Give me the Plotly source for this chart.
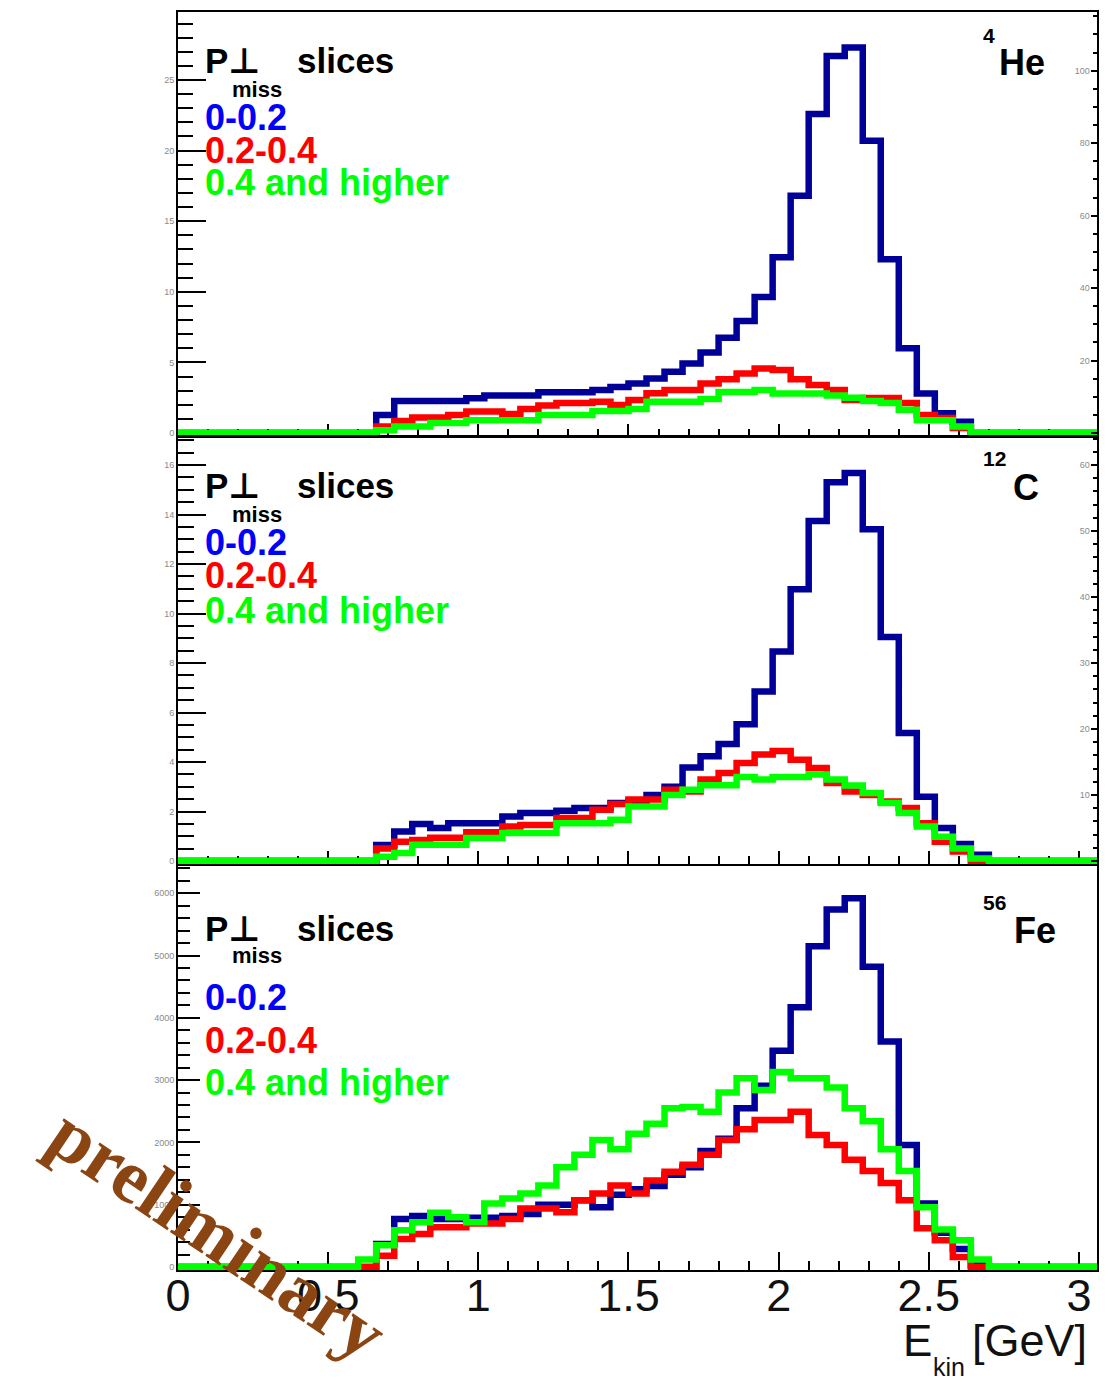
import plotly.graph_objects as go

# Canvas size in pixels
W, H = 1113, 1384

# Histogram binning: 51 bins of 0.06 GeV from 0 to 3.06 GeV
BIN_WIDTH = 0.06
N_BINS = 51
FIRST_LISTED_BIN = 10          # the lists below start at E_kin = 0.60 GeV

# Counts per bin, 0.60 ... 2.70 GeV (36 bins), for each p_miss slice
he_low = [0, 1.27, 2.27, 2.27, 2.27, 2.27, 2.46, 2.65, 2.65, 2.65, 2.88, 2.88,
          2.88, 3.05, 3.26, 3.5, 3.86, 4.34, 4.93, 5.7, 6.74, 7.93, 9.64, 12.45,
          16.8, 22.6, 26.7, 27.3, 20.7, 12.3, 6.0, 2.8, 1.4, 0.8, 0, 0]
he_mid = [0, 0.46, 0.85, 1.1, 1.1, 1.28, 1.52, 1.52, 1.35, 1.7, 1.94, 2.12,
          2.12, 2.22, 1.98, 2.34, 2.81, 3.05, 3.05, 3.5, 3.8, 4.22, 4.57, 4.46,
          3.8, 3.4, 3.05, 2.34, 2.47, 2.47, 2.12, 1.28, 1.06, 0.35, 0, 0]
he_high = [0, 0.2, 0.46, 0.46, 0.7, 0.7, 0.9, 0.9, 0.9, 0.9, 1.28, 1.28,
           1.28, 1.55, 1.55, 1.7, 2.22, 2.22, 2.22, 2.4, 2.9, 2.9, 3.05, 2.8,
           2.8, 2.8, 2.65, 2.5, 2.27, 2.12, 1.65, 0.9, 0.9, 0.46, 0, 0]

c_low = [0, 0.65, 1.19, 1.49, 1.33, 1.53, 1.53, 1.53, 1.8, 1.94, 1.94, 2.03,
         2.14, 2.14, 2.34, 2.43, 2.67, 3.0, 3.78, 4.23, 4.73, 5.53, 6.85, 8.46,
         10.98, 13.74, 15.3, 15.68, 13.4, 9.05, 5.17, 2.6, 1.33, 0.69, 0.25, 0]
c_mid = [0, 0.51, 0.78, 0.85, 0.94, 0.94, 1.16, 1.16, 1.39, 1.45, 1.45, 1.74,
         1.74, 2.07, 2.3, 2.48, 2.48, 2.88, 2.81, 3.29, 3.56, 3.96, 4.3, 4.44,
         4.09, 3.76, 3.15, 2.81, 2.67, 2.4, 2.14, 1.53, 0.78, 0.38, 0, 0]
c_high = [0, 0.17, 0.32, 0.66, 0.66, 0.66, 0.93, 0.93, 1.13, 1.13, 1.13, 1.53,
          1.53, 1.53, 1.67, 2.2, 2.2, 2.67, 2.88, 3.06, 3.06, 3.39, 3.29, 3.39,
          3.39, 3.5, 3.29, 3.05, 2.75, 2.34, 1.94, 1.39, 0.98, 0.51, 0.1, 0]

fe_low = [0, 370, 770, 820, 770, 770, 790, 790, 820, 850, 1000, 1000,
          1070, 960, 1160, 1250, 1300, 1480, 1600, 1860, 2060, 2550, 2910, 3470,
          4170, 5150, 5740, 5920, 4820, 3620, 1960, 1020, 550, 290, 30, 0]
fe_mid = [0, 180, 450, 530, 640, 640, 700, 700, 770, 940, 940, 880,
          1070, 1180, 1310, 1180, 1390, 1530, 1640, 1800, 2040, 2210, 2360, 2360,
          2490, 2120, 1960, 1720, 1540, 1350, 1070, 620, 430, 160, 0, 0]
fe_high = [120, 350, 590, 720, 870, 800, 720, 1020, 1100, 1180, 1310, 1600,
           1800, 2040, 1890, 2140, 2300, 2550, 2570, 2490, 2800, 3030, 2840, 3130,
           3030, 3030, 2880, 2550, 2340, 1890, 1540, 960, 600, 430, 120, 0]

slice_labels = ["0-0.2", "0.2-0.4", "0.4 and higher"]
x_tick_vals = [0, 0.5, 1, 1.5, 2, 2.5, 3]
x_tick_text = ["0", "0.5", "1", "1.5", "2", "2.5", "3"]

LINE_COLORS = ["#000099", "#ff0000", "#00ff00"]
TEXT_COLORS = ["#0000ff", "#ff0000", "#00ff00"]
SANS = "Liberation Sans, Arial, Helvetica, DejaVu Sans, sans-serif"
SERIF = "Liberation Serif, Times New Roman, DejaVu Serif, serif"

X_LEFT, X_RIGHT = 178, 1097    # frame edges (px)


def full_bins(vals):
    counts = [0.0] * N_BINS
    for i, v in enumerate(vals):
        counts[FIRST_LISTED_BIN + i] = v
    return counts


def step_xy(vals):
    counts = full_bins(vals)
    edges = [round(i * BIN_WIDTH, 4) for i in range(N_BINS + 1)]
    return edges, counts + [counts[-1]]


def fx(p):
    return p / W


def fy(p):
    return 1 - p / H


# Panel geometry (px) and axis scales (px per unit)
panels = [
    dict(series=[he_low, he_mid, he_high], top=12, zero=433, bottom=436,
         ppu=14.12, dtick=5, minor=1, ylen=28, ymlen=15, xlen=12, xmlen=7,
         right=dict(ppu=3.623, dtick=20, minor=5),
         nucleus=("4", "He"), sup_y=35, nuc_y=62.5, nuc_x=998, sup_x=982,
         text_y=[60.5, 89.5, 117.5, 150.5, 182.5]),
    dict(series=[c_low, c_mid, c_high], top=437, zero=861, bottom=864,
         ppu=24.75, dtick=2, minor=0.5, ylen=28, ymlen=16, xlen=13, xmlen=8,
         right=dict(ppu=6.6, dtick=10, minor=2),
         nucleus=("12", "C"), sup_y=459, nuc_y=487.5, nuc_x=1012, sup_x=982,
         text_y=[486, 514.5, 542.5, 575.5, 610.5]),
    dict(series=[fe_low, fe_mid, fe_high], top=866, zero=1267, bottom=1270,
         ppu=0.0623, dtick=1000, minor=200, ylen=22, ymlen=12, xlen=18, xmlen=9,
         right=None,
         nucleus=("56", "Fe"), sup_y=902, nuc_y=930.5, nuc_x=1013, sup_x=982,
         text_y=[928, 955.5, 997.5, 1040.5, 1082]),
]

fig = go.Figure()
layout = dict(width=W, height=H,
              margin=dict(l=0, r=0, t=0, b=0, pad=0, autoexpand=False),
              paper_bgcolor="white", plot_bgcolor="white", showlegend=False)
annotations = []

small_font = dict(size=9, color="#8a8a8a", family=SANS)


def put(text, x, yc, size, color="black", family=SANS, bold=True):
    annotations.append(dict(
        text=f"<b>{text}</b>" if bold else text, x=fx(x), y=fy(yc),
        xref="paper", yref="paper", xanchor="left", yanchor="middle",
        showarrow=False, borderpad=0,
        font=dict(size=size, color=color, family=family)))


for k, p in enumerate(panels):
    n = k + 1
    xa = "x" if n == 1 else f"x{n}"
    ya = "y" if n == 1 else f"y{n}"
    dom_y = [fy(p["bottom"]), fy(p["top"])]
    lo = -(p["bottom"] - p["zero"]) / p["ppu"]
    hi = (p["zero"] - p["top"]) / p["ppu"]

    for vals, col in zip(p["series"], LINE_COLORS):
        xs, ys = step_xy(vals)
        fig.add_trace(go.Scatter(x=xs, y=ys, xaxis=xa, yaxis=ya, mode="lines",
                                 line=dict(color=col, width=6.5, shape="hv"),
                                 hoverinfo="skip"))

    is_bottom = (n == len(panels))
    layout[f"xaxis{'' if n == 1 else n}"] = dict(
        domain=[fx(X_LEFT), fx(X_RIGHT)], range=[0, N_BINS * BIN_WIDTH],
        anchor=ya, showline=True, linecolor="black", linewidth=2, mirror=True,
        ticks="inside", ticklen=p["xlen"], tickwidth=2, tickcolor="black",
        tickvals=x_tick_vals, ticktext=x_tick_text,
        showticklabels=is_bottom, ticklabelstandoff=-15,
        tickfont=dict(size=45, color="#111111", family=SANS),
        minor=dict(ticks="inside", dtick=0.1, tick0=0, ticklen=p["xmlen"],
                   tickwidth=2, tickcolor="black", showgrid=False),
        showgrid=False, zeroline=False, layer="below traces",
        automargin=False, fixedrange=True)

    layout[f"yaxis{'' if n == 1 else n}"] = dict(
        domain=dom_y, range=[lo, hi], anchor=xa,
        showline=True, linecolor="black", linewidth=2, mirror=True,
        ticks="inside", ticklen=p["ylen"], tickwidth=2, tickcolor="black",
        tick0=0, dtick=p["dtick"], tickfont=small_font,
        minor=dict(ticks="inside", dtick=p["minor"], ticklen=p["ymlen"],
                   tickwidth=2, tickcolor="black", showgrid=False),
        showgrid=False, zeroline=False, layer="below traces",
        automargin=False, fixedrange=True)

    if p["right"] is not None:
        r = p["right"]
        rid = len(panels) + n
        rlo = -(p["bottom"] - p["zero"]) / r["ppu"]
        rhi = (p["zero"] - p["top"]) / r["ppu"]
        layout[f"yaxis{rid}"] = dict(
            overlaying=ya, side="right", anchor=xa, range=[rlo, rhi],
            showline=True, linecolor="black", linewidth=2,
            ticks="inside", ticklen=6, tickwidth=1.5, tickcolor="black",
            tick0=0, dtick=r["dtick"], ticklabelposition="inside",
            tickfont=small_font,
            minor=dict(ticks="inside", dtick=r["minor"], ticklen=4,
                       tickwidth=1.5, tickcolor="black", showgrid=False),
            showgrid=False, zeroline=False, automargin=False, fixedrange=True)
        fig.add_trace(go.Scatter(x=[0], y=[0], xaxis=xa, yaxis=f"y{rid}",
                                 mode="lines", line=dict(width=0),
                                 hoverinfo="skip"))

    # Panel texts
    ty = p["text_y"]
    put("P⊥", 204, ty[0], 35)
    put("miss", 231, ty[1], 22)
    put("slices", 296, ty[0], 35)
    for lbl, col, yc in zip(slice_labels, TEXT_COLORS, ty[2:]):
        put(lbl, 204, yc, 36, color=col)
    sup, sym = p["nucleus"]
    put(sup, p["sup_x"], p["sup_y"], 21)
    put(sym, p["nuc_x"], p["nuc_y"], 36)

# Axis title E_kin [GeV]
put("E", 902, 1340, 44, color="#111111", bold=False)
put("kin", 932, 1367, 25, color="#111111", bold=False)
put("[GeV]", 971, 1340, 45, color="#111111", bold=False)

# Watermark
annotations.append(dict(text="<b>preliminary</b>", x=fx(218), y=fy(1233),
                        xref="paper", yref="paper", xanchor="center",
                        yanchor="middle", textangle=34, showarrow=False,
                        font=dict(size=76, color="#8b4513", family=SERIF)))

layout["annotations"] = annotations
fig.update_layout(**layout)

fig.write_html("out.html")
